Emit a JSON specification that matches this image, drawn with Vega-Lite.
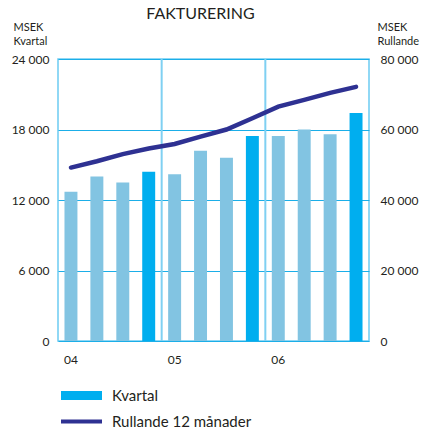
{
  "$schema": "https://vega.github.io/schema/vega-lite/v6.json",
  "width": 311,
  "height": 282,
  "autosize": {"type": "none"},
  "padding": {"left": 58, "top": 59, "right": 53, "bottom": 89},
  "background": "white",
  "title": {"text": "FAKTURERING", "fontSize": 16, "font": "Lato", "fontWeight": "normal", "color": "#231F20", "dx": -13, "offset": -1},
  "config": {"view": {"stroke": "#6CCBF2", "strokeWidth": 1.5}, "font": "Lato"},
  "data": {"values": [
    {"period": "04 Q1", "quarter": 1, "kvartal": 12700, "rullande": 49200},
    {"period": "04 Q2", "quarter": 2, "kvartal": 14000, "rullande": 51000},
    {"period": "04 Q3", "quarter": 3, "kvartal": 13500, "rullande": 53000},
    {"period": "04 Q4", "quarter": 4, "kvartal": 14400, "rullande": 54600},
    {"period": "05 Q1", "quarter": 1, "kvartal": 14200, "rullande": 55900},
    {"period": "05 Q2", "quarter": 2, "kvartal": 16200, "rullande": 58000},
    {"period": "05 Q3", "quarter": 3, "kvartal": 15600, "rullande": 60000},
    {"period": "05 Q4", "quarter": 4, "kvartal": 17450, "rullande": 63200},
    {"period": "06 Q1", "quarter": 1, "kvartal": 17450, "rullande": 66500},
    {"period": "06 Q2", "quarter": 2, "kvartal": 18000, "rullande": 68400},
    {"period": "06 Q3", "quarter": 3, "kvartal": 17600, "rullande": 70400},
    {"period": "06 Q4", "quarter": 4, "kvartal": 19400, "rullande": 72100}
  ]},
  "encoding": {
    "x": {
      "field": "period", "type": "ordinal", "sort": null,
      "scale": {
        "domain": ["04 Q1", "04 Q2", "04 Q3", "04 Q4", "05 Q1", "05 Q2", "05 Q3", "05 Q4", "06 Q1", "06 Q2", "06 Q3", "06 Q4"],
        "paddingInner": 0.5, "paddingOuter": 0.25
      },
      "axis": {
        "title": null, "ticks": false, "domain": false, "grid": false,
        "labelAngle": 0, "labelFontSize": 12, "labelColor": "#231F20", "labelPadding": 13,
        "labelExpr": "slice(datum.value, -2) == 'Q1' ? slice(datum.value, 0, 2) : ''"
      }
    }
  },
  "layer": [
    {
      "data": {"values": [{"period": "05 Q1"}, {"period": "06 Q1"}]},
      "mark": {"type": "rule", "color": "#7FD0F2", "strokeWidth": 2},
      "encoding": {"x": {"field": "period", "type": "ordinal", "bandPosition": -0.5}}
    },
    {
      "mark": {"type": "bar"},
      "encoding": {
        "y": {
          "field": "kvartal", "type": "quantitative",
          "scale": {"domain": [0, 24000], "nice": false},
          "axis": {
            "values": [0, 6000, 12000, 18000, 24000],
            "labelExpr": "replace(format(datum.value, ','), ',', ' ')",
            "ticks": false, "domain": false,
            "grid": true, "gridColor": "#1BAEE8", "gridWidth": 1.2, "gridOpacity": 1,
            "labelFontSize": 12, "labelColor": "#231F20", "labelPadding": 9,
            "title": ["MSEK", "Kvartal"], "titleAngle": 0, "titleAlign": "left", "titleBaseline": "top",
            "titleX": -45, "titleY": -38, "titleFontSize": 11, "titleFontWeight": "normal",
            "titleColor": "#231F20", "titleLineHeight": 14
          }
        },
        "fill": {
          "condition": {"test": "datum.quarter == 4", "value": "#00AEEF"},
          "value": "#82C4E2"
        }
      }
    },
    {
      "mark": {"type": "line", "strokeWidth": 4.5, "strokeCap": "round"},
      "encoding": {
        "y": {
          "field": "rullande", "type": "quantitative",
          "scale": {"domain": [0, 80000], "nice": false},
          "axis": {
            "orient": "right",
            "values": [0, 20000, 40000, 60000, 80000],
            "labelExpr": "replace(format(datum.value, ','), ',', ' ')",
            "ticks": false, "domain": false, "grid": false,
            "labelFontSize": 12, "labelColor": "#231F20", "labelPadding": 11,
            "title": ["MSEK", "Rullande"], "titleAngle": 0, "titleAlign": "left", "titleBaseline": "top",
            "titleX": 8, "titleY": -38, "titleFontSize": 11, "titleFontWeight": "normal",
            "titleColor": "#231F20", "titleLineHeight": 14
          }
        },
        "color": {
          "datum": "Rullande 12 månader",
          "type": "nominal",
          "scale": {"domain": ["Kvartal", "Rullande 12 månader"], "range": ["#00AEEF", "#2E3192"]},
          "legend": {
            "title": null, "orient": "none", "legendX": 16, "legendY": 329,
            "direction": "vertical",
            "symbolType": "stroke", "symbolSize": 1681, "rowPadding": -31,
            "labelFontSize": 15, "labelColor": "#231F20", "labelOffset": 23,
            "encode": {
              "symbols": {"update": {"strokeWidth": {"signal": "datum.value === 'Kvartal' ? 9 : 4"}}}
            }
          }
        }
      }
    }
  ],
  "resolve": {"scale": {"y": "independent"}}
}
